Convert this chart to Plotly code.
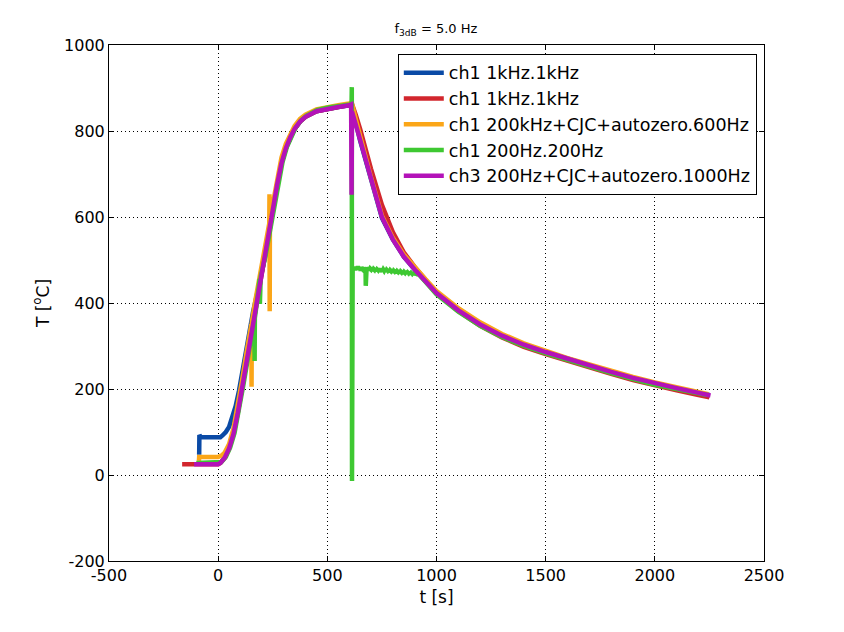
import plotly.graph_objects as go

# ---- data ----
blue_t = [-87, -86, -80, 0, 10, 20, 35, 50, 65, 80, 95, 110, 125, 140, 160, 180, 200, 220, 250, 270, 290, 310, 330, 350, 375, 400, 450, 500, 550, 600, 610,
          650, 700, 750, 800, 850, 900, 950, 1000, 1100, 1200, 1300, 1400, 1500, 1600, 1700, 1800, 1900, 2000, 2100, 2200, 2250]
blue_T = [47, 93, 88, 88, 88, 92, 100, 112, 135, 160, 195, 240, 285, 335, 380, 425, 470, 520, 615, 675, 725, 760, 785, 805, 822, 833, 846, 852, 856, 860, 862,
          778, 685, 598, 548, 508, 478, 450, 423, 383, 350, 324, 303, 286, 270, 255, 240, 226, 213, 202, 191, 186]

red_t = [-165, 0, 10, 30, 50, 70, 90, 110, 130, 150, 170, 190, 210, 230, 250, 270, 290, 310, 330, 350, 375, 400, 450, 500, 550, 600, 612,
         630, 650, 700, 750, 800, 850, 900, 950, 1000, 1100, 1200, 1300, 1400, 1500, 1600, 1700, 1800, 1900, 2000, 2100, 2200, 2250]
red_T = [25, 25, 28, 40, 62, 95, 145, 205, 265, 330, 390, 445, 500, 555, 615, 675, 725, 760, 785, 805, 822, 833, 846, 852, 856, 860, 864,
         838, 805, 712, 628, 565, 518, 484, 453, 424, 381, 347, 320, 298, 281, 265, 250, 235, 221, 208, 197, 186, 181]

orange_t = [-88, -87, 0, 15, 30, 50, 70, 90, 110, 130, 150, 152, 153, 154, 170, 190, 210, 230, 234, 235, 236, 237, 250, 270, 290, 310, 330, 350, 375, 400, 450, 500, 550, 600, 612,
            630, 650, 700, 750, 800, 850, 900, 950, 1000, 1100, 1200, 1300, 1400, 1500, 1600, 1700, 1800, 1900, 2000, 2100, 2200, 2245]
orange_T = [33, 42, 42, 45, 52, 72, 108, 160, 222, 285, 345, 350, 205, 355, 405, 458, 512, 570, 585, 653, 381, 595, 630, 690, 738, 770, 793, 812, 828, 838, 850, 856, 860, 864, 866,
            828, 788, 692, 603, 552, 513, 483, 455, 428, 388, 355, 328, 306, 288, 272, 257, 242, 228, 215, 203, 193, 188]

green_t = [-100, 0, 15, 35, 55, 75, 95, 115, 135, 155, 165, 166, 167, 168, 175, 189, 190, 191, 195, 215, 235, 255, 275, 295, 315, 335, 355, 380, 405, 455, 505, 555, 600, 611,
           612, 613,
           616, 620, 624, 628, 632, 636, 640, 644, 648, 652, 656, 660, 664, 668, 672, 675, 676, 677, 680, 684, 688, 692, 696, 700,
           704, 708, 712, 716, 720, 724, 728, 732, 736, 740, 744, 748, 752, 756, 760, 764, 768, 772, 776, 780,
           784, 788, 792, 796, 800, 804, 808, 812, 816, 820, 824, 828, 832, 836, 840, 844, 848, 852, 856, 860,
           864, 868, 872, 876, 880, 884, 888, 892, 896, 900, 905, 910, 915, 920,
           950, 1000, 1100, 1200, 1300, 1400, 1500, 1600, 1700, 1800, 1900, 2000, 2100, 2200, 2240]
green_T = [28, 28, 30, 42, 64, 98, 148, 208, 268, 332, 360, 346, 265, 365, 392, 450, 456, 398, 462, 505, 560, 620, 678, 728, 763, 788, 808, 825, 836, 849, 855, 858, 860, 862,
           902, -14,
           481, 478, 484, 477, 482, 479, 485, 478, 481, 476, 483, 479, 477, 482, 478, 480, 440, 479, 483, 477, 481, 476, 480, 478,
           482, 475, 479, 477, 481, 474, 478, 476, 480, 473, 477, 479, 474, 478, 475, 479, 473, 477, 475, 478,
           472, 476, 474, 477, 471, 475, 473, 476, 470, 474, 472, 475, 469, 473, 471, 474, 468, 472, 470, 473,
           468, 471, 469, 472, 467, 470, 468, 471, 466, 469, 468, 467, 469, 466,
           448, 420, 380, 347, 321, 300, 283, 267, 252, 237, 223, 210, 200, 190, 186]

mag_t = [-110, 0, 10, 30, 50, 70, 90, 110, 130, 150, 170, 190, 210, 230, 250, 270, 290, 310, 330, 350, 375, 400, 450, 500, 550, 600, 609, 611, 613,
         650, 700, 724, 750, 800, 850, 900, 950, 1000, 1100, 1200, 1300, 1400, 1500, 1600, 1700, 1800, 1900, 2000, 2100, 2200, 2255]
mag_T = [25, 25, 28, 40, 62, 95, 145, 205, 265, 330, 390, 445, 500, 555, 615, 675, 725, 760, 785, 805, 822, 833, 846, 852, 856, 860, 862, 652, 845,
         780, 685, 645, 600, 548, 508, 478, 450, 423, 383, 350, 324, 303, 286, 270, 255, 240, 226, 213, 202, 191, 185]

names = ["ch1 1kHz.1kHz", "ch1 1kHz.1kHz", "ch1 200kHz+CJC+autozero.600Hz",
         "ch1 200Hz.200Hz", "ch3 200Hz+CJC+autozero.1000Hz"]
colors = ["#0a4aa6", "#d2262d", "#fba618", "#3ec832", "#b312b8"]

x_ticks = [-500, 0, 500, 1000, 1500, 2000, 2500]
y_ticks = [-200, 0, 200, 400, 600, 800, 1000]

series = [(blue_t, blue_T), (red_t, red_T), (orange_t, orange_T), (green_t, green_T), (mag_t, mag_T)]

FONT = "DejaVu Sans, sans-serif"

fig = go.Figure()
for (tt, TT), nm, c in zip(series, names, colors):
    fig.add_trace(go.Scatter(x=tt, y=TT, mode="lines", name=nm,
                             line=dict(color=c, width=4.5)))

axis_common = dict(showline=True, linecolor="black", linewidth=1, mirror="allticks",
                   ticks="inside", ticklen=5, tickcolor="black",
                   showgrid=True, gridcolor="black", gridwidth=1, griddash="1px,3px",
                   zeroline=False, tickfont=dict(family=FONT, size=16, color="black"))

fig.update_xaxes(range=[-500, 2500], tickvals=x_ticks, ticktext=[str(v) for v in x_ticks],
                 title=dict(text="t [s]", font=dict(family=FONT, size=17, color="black"), standoff=6),
                 **axis_common)
fig.update_yaxes(range=[-200, 1000], tickvals=y_ticks, ticktext=[str(v) for v in y_ticks],
                 title=dict(text="T [<sup>o</sup>C]", font=dict(family=FONT, size=17, color="black"), standoff=10),
                 **axis_common)

fig.update_layout(
    width=844, height=632,
    margin=dict(l=101, r=88, t=37, b=79),
    paper_bgcolor="white", plot_bgcolor="white",
    title=dict(text="f<sub>3dB</sub> = 5.0 Hz", x=0.507, xanchor="center", y=0.967, yanchor="middle",
               font=dict(family=FONT, size=13, color="black")),
    legend=dict(x=0.989, y=0.983, xanchor="right", yanchor="top", itemwidth=40,
                bgcolor="white", bordercolor="black", borderwidth=1,
                font=dict(family=FONT, size=17.5, color="black"), tracegroupgap=0),
    showlegend=True,
)

fig.write_html("out.html")
